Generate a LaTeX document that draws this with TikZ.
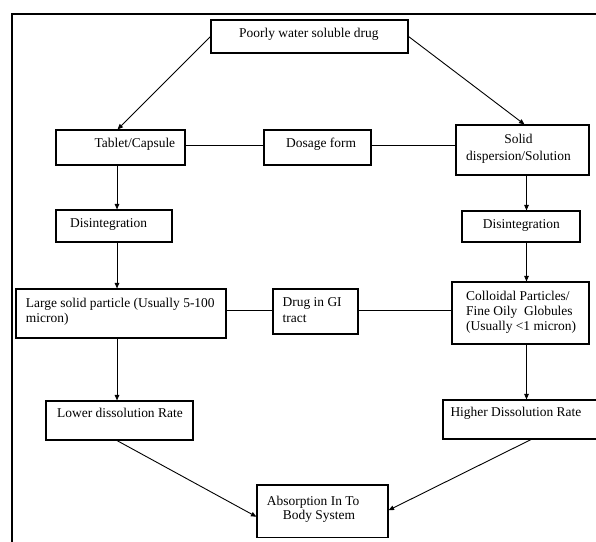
\documentclass[tikz,border=0pt]{standalone}
\usepackage{fontspec}
\setmainfont{Liberation Serif}
\usetikzlibrary{fit,arrows.meta}
\begin{document}
\begin{tikzpicture}[x=1pt,y=-1pt,
  box/.style={draw, line width=1.1pt, inner sep=0pt},
  lbl/.style={anchor=base west, inner sep=0pt, font=\fontsize{13.45}{15}\selectfont},
  clbl/.style={anchor=base, inner sep=0pt, font=\fontsize{13.45}{15}\selectfont},
  conn/.style={line width=0.9pt},
  arr/.style={conn, -{Triangle[length=5.5pt,width=4.5pt]}}]
\useasboundingbox (0,0) rectangle (596,541);
\draw[line width=2.2pt] (12,560) -- (12,14) -- (620,14);

% boxes
\node[box, fit={(211,20) (408,53)}] (poorly) {};
\node[box, fit={(56,130) (185,165)}] (tablet) {};
\node[box, fit={(264,130) (371,165)}] (dosage) {};
\node[box, fit={(456,125) (589,175)}] (solid) {};
\node[box, fit={(56,210) (172,242)}] (disL) {};
\node[box, fit={(462,211) (580,242)}] (disR) {};
\node[box, fit={(16,289) (226,338)}] (large) {};
\node[box, fit={(273,289) (358,334)}] (drug) {};
\node[box, fit={(452,282) (589,344)}] (coll) {};
\node[box, fit={(46,401) (193,440)}] (lower) {};
\node[box, fit={(443,400) (610,439)}] (higher) {};
\node[box, fit={(257,485) (388,537.5)}] (absorb) {};

% texts
\node[lbl] (tpoorly) at (239,37.3) {Poorly water soluble drug};
\node[lbl] (ttablet) at (94.5,147.5) {Tablet/Capsule};
\node[lbl] (tdosage) at (286,147.5) {Dosage form};
\node[clbl] (tsolidA) at (518.5,143) {Solid};
\node[clbl] (tsolidB) at (518.5,160.5) {dispersion/Solution};
\node[lbl] (tdisL) at (70,227.7) {Disintegration};
\node[lbl] (tdisR) at (482.7,228.5) {Disintegration};
\node[lbl] (tlargeA) at (25.7,307) {Large solid particle (Usually 5-100};
\node[lbl] (tlargeB) at (25.7,322.3) {micron)};
\node[lbl] (tdrugA) at (282.5,306) {Drug in GI};
\node[lbl] (tdrugB) at (282.5,322) {tract};
\node[lbl] (tcollA) at (466,300.7) {Colloidal Particles/};
\node[lbl] (tcollB) at (466,315.3) {Fine Oily\ \ Globules};
\node[lbl] (tcollC) at (466,330) {(Usually <1 micron)};
\node[lbl] (tlower) at (57,417.3) {Lower dissolution Rate};
\node[lbl] (thigher) at (450.3,416.7) {Higher Dissolution Rate};
\node[lbl] (tabsA) at (266.7,505) {Absorption In To};
\node[lbl] (tabsB) at (282.7,519.3) {Body System};

% connectors
\draw[arr] (poorly.west) -- ([xshift=-3pt]tablet.north);
\draw[arr] (poorly.east) -- ([xshift=2pt]solid.north);
\draw[conn] ([yshift=2.5pt]tablet.east) -- ([yshift=2.5pt]dosage.west);
\draw[conn] ([yshift=2.5pt]dosage.east) -- ([yshift=2.5pt]dosage.east -| solid.west);
\draw[arr] ([xshift=-3.5pt]tablet.south) -- ([xshift=-3.5pt]tablet.south |- disL.north);
\draw[arr] ([xshift=3pt]disL.south) -- ([xshift=3pt]disL.south |- large.north);
\draw[arr] ([xshift=-4pt]large.south) -- ([xshift=-4pt]large.south |- lower.north);
\draw[conn] ([yshift=3.5pt]large.east) -- ([yshift=3.5pt]large.east -| drug.west);
\draw[conn] ([yshift=1.5pt]drug.east) -- ([yshift=1.5pt]drug.east -| coll.west);
\draw[arr] ([xshift=4pt]solid.south) -- ([xshift=4pt]solid.south |- disR.north);
\draw[arr] ([xshift=5.5pt]disR.south) -- ([xshift=5.5pt]disR.south |- coll.north);
\draw[arr] ([xshift=6pt]coll.south) -- ([xshift=6pt]coll.south |- higher.north);
\draw[arr] ([xshift=-2.5pt]lower.south) -- ([yshift=-5.5pt]absorb.west);
\draw[arr] ([xshift=4.5pt]higher.south) -- ([yshift=1pt]absorb.east);
\end{tikzpicture}
\end{document}
